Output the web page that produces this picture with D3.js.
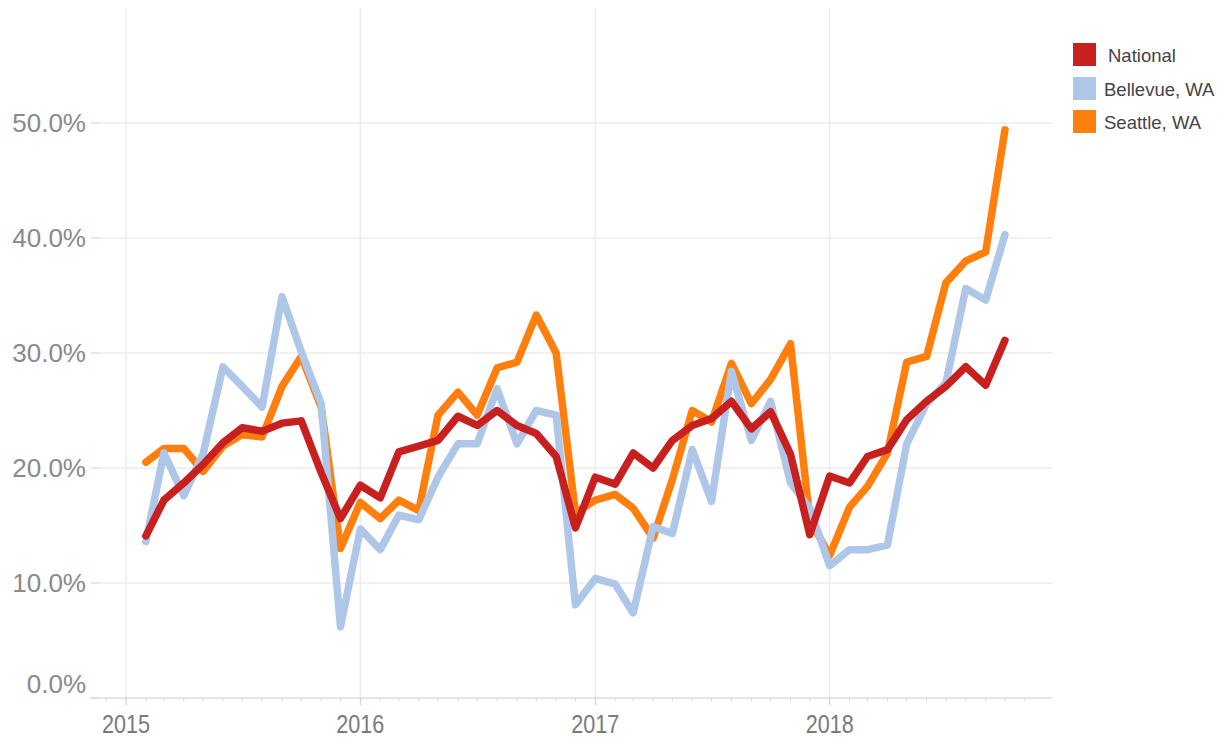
<!DOCTYPE html>
<html>
<head>
<meta charset="utf-8">
<script src="https://cdn.jsdelivr.net/npm/d3@7"></script>
<style>
  html, body { margin: 0; padding: 0; background: #ffffff; }
  svg { display: block; }
</style>
</head>
<body>
<svg id="chart" width="1218" height="739"></svg>
<script>
// ---- Data (percent values, monthly from Feb 2015 to Oct 2018) ----
const startYear = 2015;
const startMonth = 1; // February (0-based)
const national = [14.1, 17.2, 18.7, 20.3, 22.2, 23.5, 23.2, 23.9, 24.1, 19.6, 15.6, 18.5,
                  17.4, 21.4, 21.9, 22.4, 24.5, 23.7, 25.0, 23.7, 23.0, 21.0, 14.8, 19.2,
                  18.6, 21.3, 20.0, 22.4, 23.7, 24.3, 25.8, 23.4, 24.9, 21.2, 14.2, 19.3,
                  18.7, 21.0, 21.6, 24.2, 25.8, 27.1, 28.8, 27.2, 31.1];
const bellevue = [13.6, 21.3, 17.6, 21.2, 28.8, 27.1, 25.3, 34.9, 30.1, 25.6, 6.2, 14.7,
                  12.9, 15.9, 15.5, 19.2, 22.1, 22.1, 26.9, 22.1, 25.0, 24.6, 8.1, 10.4,
                  9.9, 7.4, 14.9, 14.3, 21.6, 17.1, 28.4, 22.4, 25.8, 18.7, 16.5, 11.5,
                  12.9, 12.9, 13.3, 22.1, 25.6, 27.4, 35.6, 34.6, 40.3];
const seattle = [20.5, 21.7, 21.7, 19.7, 21.9, 22.9, 22.7, 27.1, 29.7, 25.3, 13.0, 17.0,
                 15.6, 17.2, 16.3, 24.6, 26.6, 24.6, 28.7, 29.2, 33.3, 30.0, 16.1, 17.2,
                 17.7, 16.5, 13.9, 19.0, 25.0, 24.0, 29.1, 25.6, 27.7, 30.8, 15.5, 12.4,
                 16.6, 18.4, 21.3, 29.2, 29.7, 36.1, 38.0, 38.8, 49.4];
const seriesNames = ["National", "Bellevue, WA", "Seattle, WA"];
const yTicks = [0, 10, 20, 30, 40, 50];
const xYears = [2015, 2016, 2017, 2018];

// ---- Layout ----
const svg = d3.select("#chart");
const colors = { "National": "#c8201f", "Bellevue, WA": "#aec7e8", "Seattle, WA": "#ff7f0e" };

const x = d3.scaleTime()
  .domain([new Date(2015, 0, 1), new Date(2019, 0, 1)])
  .range([126, 1064]);
const y = d3.scaleLinear().domain([0, 50]).range([698, 123]);

const dates = national.map((_, i) => new Date(startYear, startMonth + i, 1));

const plotLeft = 100, plotRight = 1052, plotTop = 8;

// horizontal gridlines
svg.append("g").selectAll("line").data(yTicks.filter(d => d > 0)).join("line")
  .attr("x1", plotLeft).attr("x2", plotRight)
  .attr("y1", d => y(d)).attr("y2", d => y(d))
  .attr("stroke", "#ececec").attr("stroke-width", 1.5);

// vertical year gridlines
svg.append("g").selectAll("line").data(xYears).join("line")
  .attr("x1", d => x(new Date(d, 0, 1))).attr("x2", d => x(new Date(d, 0, 1)))
  .attr("y1", plotTop).attr("y2", y(0))
  .attr("stroke", "#ececec").attr("stroke-width", 1.5);

// y axis tick marks
svg.append("g").selectAll("line").data(yTicks).join("line")
  .attr("x1", 91).attr("x2", 100)
  .attr("y1", d => y(d)).attr("y2", d => y(d))
  .attr("stroke", "#d0d0d0").attr("stroke-width", 1);

// y labels
svg.append("g").selectAll("text").data(yTicks).join("text")
  .attr("x", 86)
  .attr("y", d => d === 0 ? y(d) - 14 : y(d))
  .attr("dy", "0.36em")
  .attr("text-anchor", "end")
  .attr("font-family", "'Liberation Sans', Arial, sans-serif")
  .attr("font-size", 26)
  .attr("fill", "#8a8a8a")
  .text(d => d3.format(".1f")(d) + "%");

// x axis baseline
svg.append("line")
  .attr("x1", 90).attr("x2", plotRight)
  .attr("y1", y(0)).attr("y2", y(0))
  .attr("stroke", "#dcdcdc").attr("stroke-width", 1.5);

// monthly minor ticks
const monthTicks = d3.timeMonth.range(new Date(2014, 11, 1), new Date(2018, 11, 1));
svg.append("g").selectAll("line").data(monthTicks).join("line")
  .attr("x1", d => x(d)).attr("x2", d => x(d))
  .attr("y1", y(0)).attr("y2", d => d.getMonth() === 0 ? y(0) + 7 : y(0) + 3)
  .attr("stroke", d => d.getMonth() === 0 ? "#c8c8c8" : "#d4d4d4")
  .attr("stroke-width", 1);

// x labels (condensed look)
svg.append("g").selectAll("text").data(xYears).join("text")
  .attr("x", d => x(new Date(d, 0, 1)) - 24)
  .attr("y", 733)
  .attr("text-anchor", "start")
  .attr("font-family", "'Liberation Sans', Arial, sans-serif")
  .attr("font-size", 26)
  .attr("textLength", 48)
  .attr("lengthAdjust", "spacingAndGlyphs")
  .attr("fill", "#7a7a7a")
  .text(d => d);

// lines
const line = d3.line()
  .x((d, i) => x(dates[i]))
  .y(d => y(d));

const drawOrder = [
  { name: "Seattle, WA", values: seattle },
  { name: "Bellevue, WA", values: bellevue },
  { name: "National", values: national }
];
svg.append("g").selectAll("path").data(drawOrder).join("path")
  .attr("d", d => line(d.values))
  .attr("fill", "none")
  .attr("stroke", d => colors[d.name])
  .attr("stroke-width", 7.5)
  .attr("stroke-linejoin", "round")
  .attr("stroke-linecap", "round");

// legend
const legend = svg.append("g").attr("transform", "translate(1073,43)");
const legendOffsets = [0, 34, 67];
const legendTextX = [35, 31, 31];
seriesNames.forEach((name, i) => {
  const g = legend.append("g").attr("transform", `translate(0,${legendOffsets[i]})`);
  g.append("rect").attr("width", 23).attr("height", 23).attr("fill", colors[name]);
  g.append("text")
    .attr("x", legendTextX[i]).attr("y", 12)
    .attr("dy", "0.36em")
    .attr("font-family", "'Liberation Sans', Arial, sans-serif")
    .attr("font-size", 18.5)
    .attr("fill", "#444")
    .text(name);
});
</script>
</body>
</html>
